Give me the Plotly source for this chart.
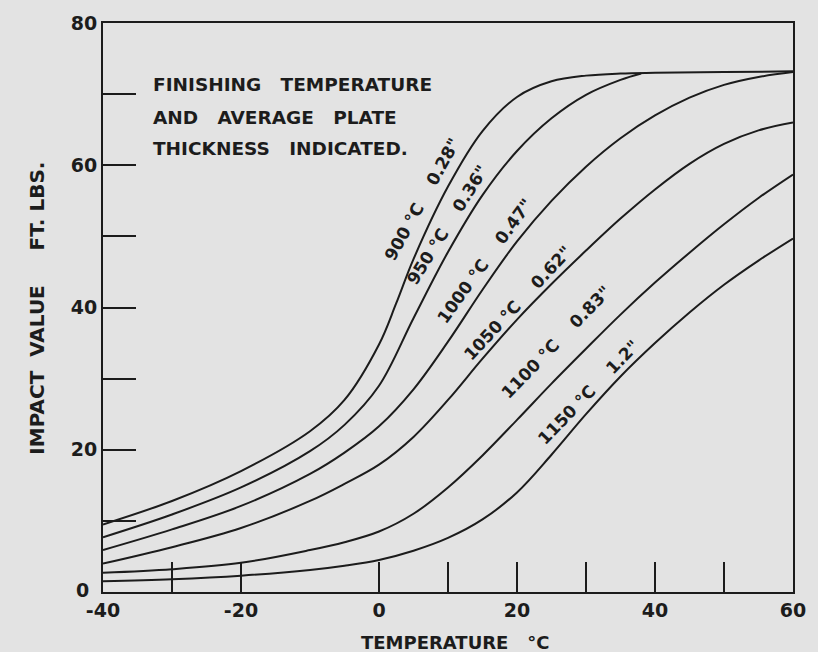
import plotly.graph_objects as go

# ---- data ----
temps_900 = [-40, -30, -20, -10, -5, 0, 2.5, 5, 10, 15, 20, 25, 30, 35, 40, 50, 60]
impact_900 = [9.5, 12.8, 17.0, 22.6, 27.0, 34.8, 40.6, 46.8, 57.0, 64.8, 69.6, 71.8, 72.6, 72.9, 73.0, 73.1, 73.2]

temps_950 = [-40, -30, -20, -10, -5, 0, 5, 10, 15, 20, 25, 30, 35, 38]
impact_950 = [7.7, 10.9, 14.7, 19.8, 23.5, 29.0, 38.5, 47.8, 55.8, 62.0, 66.6, 69.9, 72.0, 72.9]

temps_1000 = [-40, -30, -20, -10, -5, 0, 5, 10, 15, 20, 25, 30, 35, 40, 45, 50, 55, 60]
impact_1000 = [5.9, 8.8, 12.1, 16.6, 19.6, 23.3, 28.5, 35.2, 42.5, 49.3, 55.0, 59.8, 63.8, 67.0, 69.5, 71.3, 72.4, 73.1]

temps_1050 = [-40, -30, -20, -10, -5, 0, 5, 10, 15, 20, 25, 30, 35, 40, 45, 50, 55, 60]
impact_1050 = [4.0, 6.3, 9.0, 12.8, 15.2, 17.9, 21.8, 27.0, 32.8, 38.3, 43.3, 48.0, 52.5, 56.6, 60.2, 63.0, 64.9, 66.0]

temps_1100 = [-40, -30, -20, -10, -5, 0, 5, 10, 15, 20, 25, 30, 35, 40, 45, 50, 55, 60]
impact_1100 = [2.7, 3.2, 4.1, 5.9, 7.0, 8.5, 11.0, 14.7, 19.2, 24.2, 29.3, 34.2, 39.0, 43.5, 47.7, 51.7, 55.4, 58.7]

temps_1150 = [-40, -30, -20, -10, -5, 0, 5, 10, 15, 20, 25, 30, 35, 40, 45, 50, 55, 60]
impact_1150 = [1.5, 1.8, 2.3, 3.1, 3.7, 4.5, 5.8, 7.6, 10.2, 14.0, 19.3, 25.0, 30.3, 35.0, 39.3, 43.2, 46.6, 49.7]

series = [
    (temps_900, impact_900),
    (temps_950, impact_950),
    (temps_1000, impact_1000),
    (temps_1050, impact_1050),
    (temps_1100, impact_1100),
    (temps_1150, impact_1150),
]

NB = '\u00a0'
curve_labels = ['900' + NB + '°C' + NB * 4 + '0.28"', '950' + NB + '°C' + NB * 4 + '0.36"',
                '1000' + NB + '°C' + NB * 4 + '0.47"', '1050' + NB + '°C' + NB * 4 + '0.62"',
                '1100' + NB + '°C' + NB * 4 + '0.83"', '1150' + NB + '°C' + NB * 4 + '1.2"']
label_x = [6.3, 9.9, 15.3, 20.1, 25.7, 30.4]
label_y = [55.2, 51.6, 46.6, 40.7, 35.1, 28.1]
label_angle = [-61, -58, -54, -47, -46, -46]

x_tickvals = [-40, -30, -20, 0, 10, 20, 30, 40, 50, 60]
x_ticktext = ['-40', '', '-20', '0', '', '20', '', '40', '', '60']
y_tickvals = [0, 10, 20, 30, 40, 50, 60, 70, 80]
y_ticktext = ['', '', '20', '', '40', '', '60', '', '80']

INK = '#1c1c1c'
PAPER = '#e3e3e3'
FONT = 'DejaVu Sans'

fig = go.Figure()
for tx, ty in series:
    fig.add_trace(go.Scatter(x=tx, y=ty, mode='lines',
                             line=dict(color=INK, width=2, shape='spline', smoothing=1.0),
                             hoverinfo='skip', showlegend=False))

for txt, lx, ly, ang in zip(curve_labels, label_x, label_y, label_angle):
    fig.add_annotation(x=lx, y=ly, xref='x', yref='y', text=txt, showarrow=False,
                       textangle=ang, font=dict(family=FONT, size=17, color=INK, weight='bold'))

note_lines = ['FINISHING' + NB * 3 + 'TEMPERATURE', 'AND' + NB * 3 + 'AVERAGE' + NB * 3 + 'PLATE',
              'THICKNESS' + NB * 3 + 'INDICATED.']
note_y = [71.4, 66.7, 62.3]
for t, yy in zip(note_lines, note_y):
    fig.add_annotation(x=-33, y=yy, xref='x', yref='y', text=t, showarrow=False,
                       xanchor='left', yanchor='middle',
                       font=dict(family=FONT, size=18.5, color=INK, weight='bold'))

# y tick label "0" placed by hand so it clears the "-40" below it
fig.add_annotation(x=0, y=0, xref='paper', yref='y', xshift=-12, yshift=2, text='0',
                   showarrow=False, xanchor='right', yanchor='middle',
                   font=dict(family=FONT, size=19, color=INK, weight='bold'))

fig.add_annotation(x=0, y=0.498, xref='paper', yref='paper', xshift=-80,
                   text='IMPACT' + NB * 2 + 'VALUE' + NB * 5 + 'FT.' + NB + 'LBS.', showarrow=False,
                   textangle=-90, font=dict(family=FONT, size=20, color=INK, weight='bold'))
fig.add_annotation(x=0.51, y=0, xref='paper', yref='paper', yshift=-50, yanchor='middle',
                   text='TEMPERATURE' + NB * 3 + '°C', showarrow=False,
                   font=dict(family=FONT, size=18, color=INK, weight='bold'))

axis_common = dict(showgrid=False, zeroline=False, showline=True, linecolor=INK, linewidth=2,
                   mirror=True, ticks='inside', tickcolor=INK, tickwidth=2,
                   tickfont=dict(family=FONT, size=19, color=INK, weight='bold'))

fig.update_xaxes(range=[-40, 60], tickvals=x_tickvals, ticktext=x_ticktext, ticklen=30, **axis_common)
fig.update_yaxes(range=[0, 80], tickvals=y_tickvals, ticktext=y_ticktext, ticklen=33, **axis_common)

fig.update_layout(width=818, height=652, margin=dict(l=103, r=15, t=22, b=60),
                  paper_bgcolor=PAPER, plot_bgcolor=PAPER)

fig.write_html('out.html')
